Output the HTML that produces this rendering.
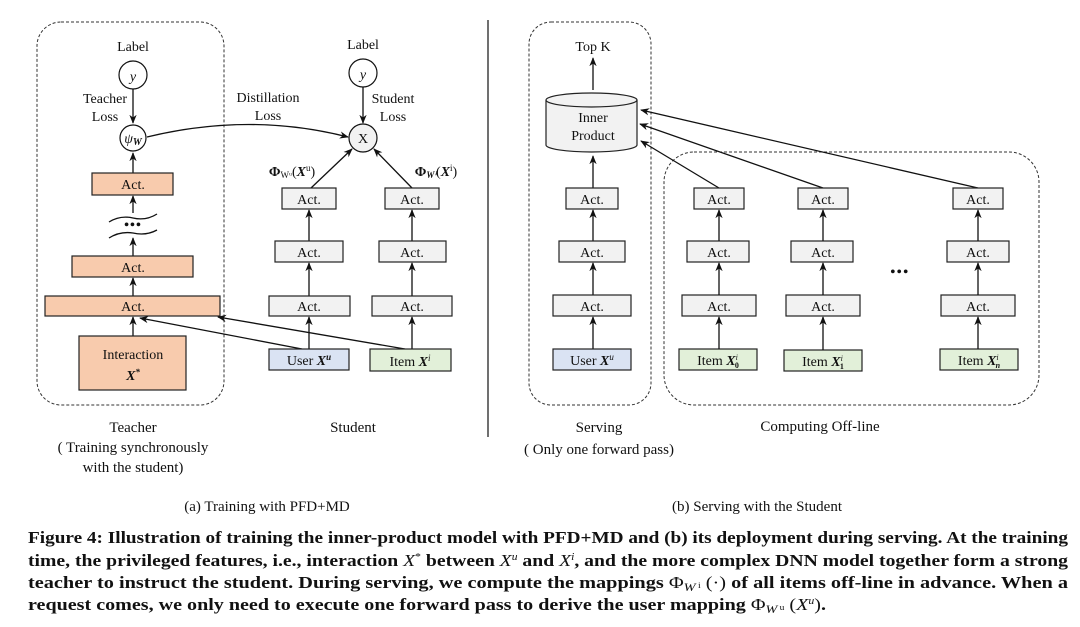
<!DOCTYPE html>
<html><head><meta charset="utf-8"><style>
html,body{margin:0;padding:0;background:#fff;}
svg{display:block;}
text{font-family:"Liberation Serif",serif;fill:#111;}
.d{font-size:14px;text-anchor:middle;}
.c{font-size:15px;text-anchor:middle;}
.cap{font-size:17px;font-weight:bold;}
</style></head><body>
<svg width="1080" height="627" viewBox="0 0 1080 627" xmlns="http://www.w3.org/2000/svg">
<defs>
<marker id="a" viewBox="0 0 10 10" refX="9" refY="5" markerWidth="7" markerHeight="7" orient="auto-start-reverse">
<path d="M0,1 L10,5 L0,9 L3,5 Z" fill="#111"/></marker>
</defs>
<g fill="none" stroke="#333" stroke-width="1" stroke-dasharray="3,2">
<rect x="37" y="22" width="187" height="383" rx="24"/>
<rect x="529" y="22" width="122" height="383" rx="22"/>
<rect x="664" y="152" width="375" height="253" rx="30"/>
</g>
<line x1="488" y1="20" x2="488" y2="437" stroke="#111" stroke-width="1.2"/>

<!-- Teacher -->
<text class="d" x="133" y="51">Label</text>
<circle cx="133" cy="75" r="14" fill="#fff" stroke="#111" stroke-width="1.2"/>
<text class="d" x="133" y="81" font-style="italic" font-size="17">y</text>
<text class="d" x="105" y="103">Teacher</text>
<text class="d" x="105" y="121">Loss</text>
<circle cx="133" cy="138" r="13" fill="#fff" stroke="#111" stroke-width="1.2"/>
<text class="d" x="133" y="143" font-style="italic" font-size="15">ψ<tspan font-size="10" font-weight="bold" dy="2">W</tspan></text>
<g stroke="#111" stroke-width="1.3" fill="none">
<line x1="133" y1="89" x2="133" y2="123" marker-end="url(#a)"/>
<line x1="133" y1="173" x2="133" y2="153" marker-end="url(#a)"/>
<line x1="133" y1="213" x2="133" y2="196" marker-end="url(#a)"/>
<line x1="133" y1="256" x2="133" y2="238" marker-end="url(#a)"/>
<line x1="133" y1="296" x2="133" y2="278" marker-end="url(#a)"/>
<line x1="133" y1="336" x2="133" y2="317" marker-end="url(#a)"/>
<path d="M109,222 Q120,215 133,218 Q146,221 157,214"/>
<path d="M109,238 Q120,231 133,233 Q146,236 157,230"/>
</g>
<text class="d" x="133" y="229" font-weight="bold" font-size="14" letter-spacing="1">•••</text>
<g fill="#f8cbad" stroke="#222" stroke-width="1.2">
<rect x="92" y="173" width="81" height="22"/>
<rect x="72" y="256" width="121" height="21"/>
<rect x="45" y="296" width="175" height="20"/>
<rect x="79" y="336" width="107" height="54"/>
</g>
<text class="d" x="133" y="189">Act.</text>
<text class="d" x="133" y="272">Act.</text>
<text class="d" x="133" y="311">Act.</text>
<text class="d" x="133" y="359">Interaction</text>
<text class="d" x="133" y="380" font-style="italic" font-weight="bold">X<tspan font-size="9" dy="-5">*</tspan></text>

<!-- Student -->
<text class="d" x="363" y="49">Label</text>
<circle cx="363" cy="73" r="14" fill="#fff" stroke="#111" stroke-width="1.2"/>
<text class="d" x="363" y="79" font-style="italic" font-size="17">y</text>
<text class="d" x="393" y="103">Student</text>
<text class="d" x="393" y="121">Loss</text>
<text class="d" x="268" y="102">Distillation</text>
<text class="d" x="268" y="120">Loss</text>
<circle cx="363" cy="138" r="14" fill="#f2f2f2" stroke="#111" stroke-width="1.2"/>
<text class="d" x="363" y="143">X</text>
<text class="d" x="292" y="176"><tspan font-weight="bold">Φ</tspan><tspan font-size="9" dy="2">Wᵘ</tspan><tspan dy="-2">(</tspan><tspan font-weight="bold" font-style="italic">X</tspan><tspan font-size="9" dy="-5">u</tspan><tspan dy="5">)</tspan></text>
<text class="d" x="436" y="176"><tspan font-weight="bold">Φ</tspan><tspan font-size="9" dy="2" font-style="italic" font-weight="bold">Wⁱ</tspan><tspan dy="-2">(</tspan><tspan font-weight="bold" font-style="italic">X</tspan><tspan font-size="9" dy="-5">i</tspan><tspan dy="5">)</tspan></text>
<g stroke="#111" stroke-width="1.3" fill="none">
<line x1="363" y1="87" x2="363" y2="123" marker-end="url(#a)"/>
<path d="M147,137 Q250,112 348,137" marker-end="url(#a)"/>
<line x1="311" y1="188" x2="352" y2="149" marker-end="url(#a)"/>
<line x1="412" y1="188" x2="374" y2="149" marker-end="url(#a)"/>
<line x1="309" y1="241" x2="309" y2="210" marker-end="url(#a)"/>
<line x1="309" y1="296" x2="309" y2="263" marker-end="url(#a)"/>
<line x1="309" y1="349" x2="309" y2="317" marker-end="url(#a)"/>
<line x1="412" y1="241" x2="412" y2="210" marker-end="url(#a)"/>
<line x1="412" y1="296" x2="412" y2="263" marker-end="url(#a)"/>
<line x1="412" y1="349" x2="412" y2="317" marker-end="url(#a)"/>
<line x1="302" y1="349" x2="140" y2="318" marker-end="url(#a)"/>
<line x1="405" y1="349" x2="218" y2="317" marker-end="url(#a)"/>
</g>
<g fill="#f2f2f2" stroke="#222" stroke-width="1.2">
<rect x="282" y="188" width="54" height="21"/>
<rect x="275" y="241" width="68" height="21"/>
<rect x="269" y="296" width="81" height="20"/>
<rect x="385" y="188" width="54" height="21"/>
<rect x="379" y="241" width="67" height="21"/>
<rect x="372" y="296" width="80" height="20"/>
</g>
<rect x="269" y="349" width="80" height="21" fill="#dae3f3" stroke="#222" stroke-width="1.2"/>
<rect x="370" y="349" width="81" height="22" fill="#e2f0d9" stroke="#222" stroke-width="1.2"/>
<text class="d" x="309" y="204">Act.</text><text class="d" x="309" y="257">Act.</text><text class="d" x="309" y="311">Act.</text>
<text class="d" x="412" y="204">Act.</text><text class="d" x="412" y="257">Act.</text><text class="d" x="412" y="311">Act.</text>
<text class="d" x="309" y="365">User <tspan font-weight="bold" font-style="italic">X</tspan><tspan font-size="9" dy="-5" font-style="italic" font-weight="bold">u</tspan></text>
<text class="d" x="410" y="366">Item <tspan font-weight="bold" font-style="italic">X</tspan><tspan font-size="9" dy="-5" font-style="italic">i</tspan></text>

<!-- Serving -->
<text class="d" x="593" y="51">Top K</text>
<g stroke="#111" stroke-width="1.3" fill="none">
<line x1="593" y1="90" x2="593" y2="58" marker-end="url(#a)"/>
<line x1="593" y1="188" x2="593" y2="156" marker-end="url(#a)"/>
<line x1="593" y1="241" x2="593" y2="210" marker-end="url(#a)"/>
<line x1="593" y1="295" x2="593" y2="263" marker-end="url(#a)"/>
<line x1="593" y1="349" x2="593" y2="317" marker-end="url(#a)"/>
<line x1="719" y1="188" x2="641" y2="141" marker-end="url(#a)"/>
<line x1="823" y1="188" x2="640" y2="124" marker-end="url(#a)"/>
<line x1="978" y1="188" x2="641" y2="110" marker-end="url(#a)"/>
</g>
<path d="M546,100 L546,145 A45.5,7 0 0 0 637,145 L637,100" fill="#f2f2f2" stroke="#222" stroke-width="1.2"/>
<ellipse cx="591.5" cy="100" rx="45.5" ry="7" fill="#f2f2f2" stroke="#222" stroke-width="1.2"/>
<text class="d" x="593" y="122">Inner</text>
<text class="d" x="593" y="140">Product</text>
<g fill="#f2f2f2" stroke="#222" stroke-width="1.2">
<rect x="566" y="188" width="52" height="21"/>
<rect x="559" y="241" width="66" height="21"/>
<rect x="553" y="295" width="78" height="21"/>
<rect x="694" y="188" width="50" height="21"/>
<rect x="687" y="241" width="62" height="21"/>
<rect x="682" y="295" width="74" height="21"/>
<rect x="798" y="188" width="50" height="21"/>
<rect x="791" y="241" width="62" height="21"/>
<rect x="786" y="295" width="74" height="21"/>
<rect x="953" y="188" width="50" height="21"/>
<rect x="947" y="241" width="62" height="21"/>
<rect x="941" y="295" width="74" height="21"/>
</g>
<rect x="553" y="349" width="78" height="21" fill="#dae3f3" stroke="#222" stroke-width="1.2"/>
<g fill="#e2f0d9" stroke="#222" stroke-width="1.2">
<rect x="679" y="349" width="78" height="21"/>
<rect x="784" y="350" width="78" height="21"/>
<rect x="940" y="349" width="78" height="21"/>
</g>
<g stroke="#111" stroke-width="1.3">
<line x1="719" y1="241" x2="719" y2="210" marker-end="url(#a)"/><line x1="719" y1="295" x2="719" y2="263" marker-end="url(#a)"/><line x1="719" y1="349" x2="719" y2="317" marker-end="url(#a)"/>
<line x1="823" y1="241" x2="823" y2="210" marker-end="url(#a)"/><line x1="823" y1="295" x2="823" y2="263" marker-end="url(#a)"/><line x1="823" y1="350" x2="823" y2="317" marker-end="url(#a)"/>
<line x1="978" y1="241" x2="978" y2="210" marker-end="url(#a)"/><line x1="978" y1="295" x2="978" y2="263" marker-end="url(#a)"/><line x1="978" y1="349" x2="978" y2="317" marker-end="url(#a)"/>
</g>
<text class="d" x="592" y="204">Act.</text><text class="d" x="592" y="257">Act.</text><text class="d" x="592" y="311">Act.</text>
<text class="d" x="719" y="204">Act.</text><text class="d" x="719" y="257">Act.</text><text class="d" x="719" y="311">Act.</text>
<text class="d" x="823" y="204">Act.</text><text class="d" x="823" y="257">Act.</text><text class="d" x="823" y="311">Act.</text>
<text class="d" x="978" y="204">Act.</text><text class="d" x="978" y="257">Act.</text><text class="d" x="978" y="311">Act.</text>
<text class="d" x="900" y="276" font-weight="bold" font-size="15" letter-spacing="1.5">•••</text>
<text class="d" x="592" y="365">User <tspan font-weight="bold" font-style="italic">X</tspan><tspan font-size="9" dy="-5" font-style="italic">u</tspan></text>
<text class="d" x="718" y="365">Item <tspan font-weight="bold" font-style="italic">X</tspan><tspan font-size="8" dy="-5" font-style="italic">i</tspan><tspan font-size="8" dx="-3" dy="8" font-weight="bold">0</tspan></text>
<text class="d" x="823" y="366">Item <tspan font-weight="bold" font-style="italic">X</tspan><tspan font-size="8" dy="-5" font-style="italic">i</tspan><tspan font-size="8" dx="-3" dy="8" font-weight="bold">1</tspan></text>
<text class="d" x="979" y="365">Item <tspan font-weight="bold" font-style="italic">X</tspan><tspan font-size="8" dy="-5" font-style="italic">i</tspan><tspan font-size="8" dx="-3" dy="8" font-weight="bold" font-style="italic">n</tspan></text>

<!-- Sub captions -->
<text class="c" x="133" y="432">Teacher</text>
<text class="c" x="133" y="452">( Training synchronously</text>
<text class="c" x="133" y="472">with the student)</text>
<text class="c" x="353" y="432">Student</text>
<text class="c" x="599" y="432" font-size="16">Serving</text>
<text class="c" x="599" y="454">( Only one forward pass)</text>
<text class="c" x="820" y="431">Computing Off-line</text>
<text class="c" x="267" y="511">(a) Training with PFD+MD</text>
<text class="c" x="757" y="511">(b) Serving with the Student</text>

<!-- Figure caption -->
<text class="cap" x="28" y="543" textLength="1040" lengthAdjust="spacingAndGlyphs">Figure 4: Illustration of training the inner-product model with PFD+MD and (b) its deployment during serving. At the training</text>
<text class="cap" x="28" y="566" textLength="1040" lengthAdjust="spacingAndGlyphs">time, the privileged features, i.e., interaction <tspan font-style="italic" font-weight="normal">X</tspan><tspan font-size="10" dy="-6" font-weight="normal">*</tspan><tspan dy="6"> between </tspan><tspan font-style="italic" font-weight="normal">X</tspan><tspan font-size="10" dy="-6" font-style="italic" font-weight="normal">u</tspan><tspan dy="6"> and </tspan><tspan font-style="italic" font-weight="normal">X</tspan><tspan font-size="10" dy="-6" font-style="italic" font-weight="normal">i</tspan><tspan dy="6">, and the more complex DNN model together form a strong</tspan></text>
<text class="cap" x="28" y="588" textLength="1040" lengthAdjust="spacingAndGlyphs">teacher to instruct the student. During serving, we compute the mappings <tspan font-weight="normal">Φ</tspan><tspan font-style="italic" font-weight="normal" font-size="12" dy="3">W</tspan><tspan font-size="8" dy="-3" font-weight="normal"> i</tspan><tspan dy="0" font-weight="normal"> (·)</tspan> of all items off-line in advance. When a</text>
<text class="cap" x="28" y="610" textLength="798" lengthAdjust="spacingAndGlyphs">request comes, we only need to execute one forward pass to derive the user mapping <tspan font-weight="normal">Φ</tspan><tspan font-style="italic" font-weight="normal" font-size="12" dy="3">W</tspan><tspan font-size="8" dy="-3" font-weight="normal"> u</tspan><tspan font-weight="normal"> (</tspan><tspan font-style="italic" font-weight="normal">X</tspan><tspan font-size="10" dy="-6" font-style="italic" font-weight="normal">u</tspan><tspan dy="6" font-weight="normal">)</tspan>.</text>
</svg>
</body></html>
